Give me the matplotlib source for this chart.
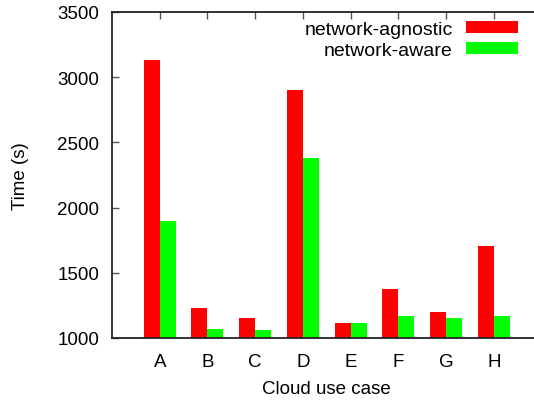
import matplotlib
matplotlib.use("Agg")
import matplotlib.pyplot as plt
import numpy as np

categories = ["A", "B", "C", "D", "E", "F", "G", "H"]
agnostic = [3130, 1230, 1153, 2902, 1115, 1376, 1199, 1705]
aware = [1897, 1069, 1061, 2380, 1115, 1169, 1153, 1169]
yticks = [1000, 1500, 2000, 2500, 3000, 3500]

plt.rcParams['font.family'] = ['Liberation Sans', 'DejaVu Sans']
FS = 13.5

fig = plt.figure(figsize=(5.34, 4.02), dpi=100)
W, H = 534, 402
left, right, top, bottom = 112, 541.7, 13, 339
ax = fig.add_axes([left / W, 1 - bottom / H, (right - left) / W, (bottom - top) / H])

x = np.arange(1, len(categories) + 1)
bw = 0.335
ax.bar(x - bw / 2, agnostic, width=bw, color="#ff0000", label="network-agnostic", zorder=2)
ax.bar(x + bw / 2, aware, width=bw, color="#00ff00", label="network-aware", zorder=2)

ax.set_xlim(0, 9)
ax.set_ylim(1000, 3500)
ax.set_xticks(x)
ax.set_xticklabels(categories)
ax.set_yticks(yticks)
ax.set_axisbelow(True)
ax.tick_params(axis='both', direction='in', length=5, width=1, color='#555555',
               labelsize=FS, top=True, right=True)
ax.tick_params(axis='x', pad=11)
ax.tick_params(axis='y', pad=9)
for s in ax.spines.values():
    s.set_linewidth(1.3)
    s.set_color('#222222')

ax.set_ylabel("Time (s)", fontsize=FS)
ax.set_xlabel("Cloud use case", fontsize=FS)
ax.yaxis.set_label_coords((29 - left) / (right - left), 0.5)
ax.xaxis.set_label_coords(0.5, (bottom - 381) / (bottom - top))

leg = ax.legend(loc='upper right', bbox_to_anchor=((518 - left) / (right - left), 1 - 9 / (bottom - top)),
                frameon=False, markerfirst=False, fontsize=14, handlelength=2.7,
                handleheight=0.55, handletextpad=0.65, labelspacing=0.2,
                borderpad=0, borderaxespad=0)
for t in leg.get_texts():
    t.set_ha('right')

fig.savefig("out.png", dpi=100)
